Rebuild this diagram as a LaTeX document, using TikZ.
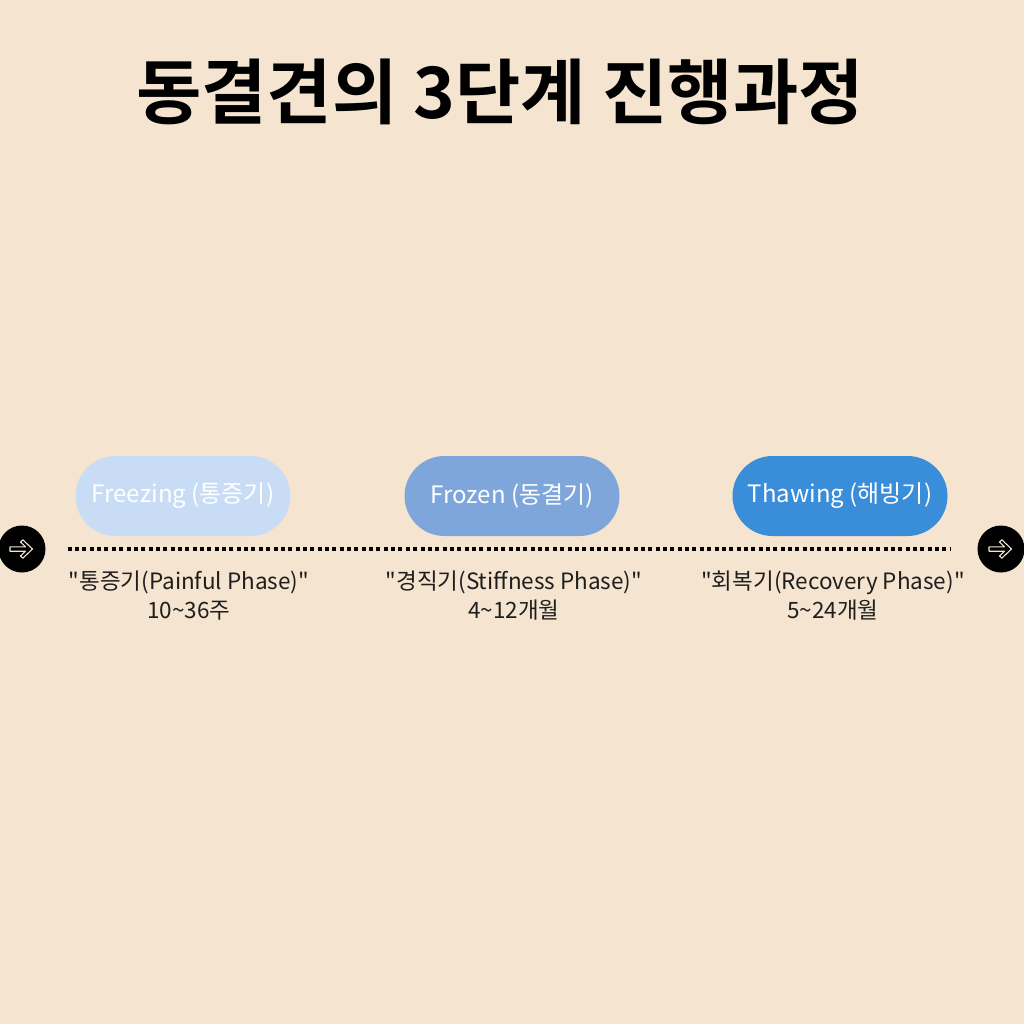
\documentclass[tikz,border=0pt]{standalone}
\usepackage{fontspec}
\setmainfont{Noto Sans CJK KR}[Ligatures=TeXOff]
\newfontfamily\titlefont{Noto Sans CJK KR Bold}
\definecolor{bgcream}{HTML}{F5E5D0}
\definecolor{iceblue}{HTML}{C8DDF5}
\definecolor{midblue}{HTML}{7FA6DA}
\definecolor{deepblue}{HTML}{3A8DD8}
\definecolor{inkgray}{HTML}{1E1E1E}
\begin{document}
\begin{tikzpicture}[x=1pt,y=-1pt]
			\tikzstyle{pill}=[draw=none, fill=#1, rounded corners=40pt, minimum width=215pt, minimum height=80pt, inner sep=0pt, text=white, font=\fontsize{24}{28}\selectfont]
			\tikzstyle{endball}=[circle, fill=black, minimum size=47pt, inner sep=0pt]
			\tikzstyle{caption}=[align=center, text=inkgray, font=\fontsize{22.5}{29}\selectfont]
			\tikzstyle{dotline}=[line width=4pt, dash pattern=on 4pt off 3.35pt, black]
			\fill[bgcream] (0,0) rectangle (1024,1024);
			\useasboundingbox (0,0) rectangle (1024,1024);
			\node[font=\titlefont\fontsize{71}{80}\selectfont] (title) at (500,92) {동결견의 3단계 진행과정};
			\node[pill=iceblue] (freeze) at (183,496) {Freezing (통증기)};
			\node[pill=midblue] (frozen) at (512,496) {Frozen (동결기)};
			\node[pill=deepblue] (thaw) at (840,496) {Thawing (해빙기)};
			\node[endball] (lball) at (22,549) {};
			\node[endball] (rball) at (1001,549) {};
			\foreach \b in {lball,rball}
				\draw[bgcream, line width=1.1pt, line join=round, fill=black, shift={(\b.center)}]
					(-12,-2.2) -- (3.5,-2.2) -- (-1.5,-7) -- (0.8,-9.2) -- (10.5,0) -- (0.8,9.2) -- (-1.5,7) -- (3.5,2.2) -- (-12,2.2) -- cycle;
			\draw[dotline] ([xshift=22pt]lball.east) -- ([xshift=-26pt]rball.west);
			\node[caption] (freezetxt) at (189,596) {"통증기(Painful Phase)"\\10\textasciitilde36주};
			\node[caption] (frozentxt) at (514,596) {"경직기(Stiffness Phase)"\\4\textasciitilde12개월};
			\node[caption] (thawtxt) at (833,596) {"회복기(Recovery Phase)"\\5\textasciitilde24개월};
		\end{tikzpicture}
\end{document}
